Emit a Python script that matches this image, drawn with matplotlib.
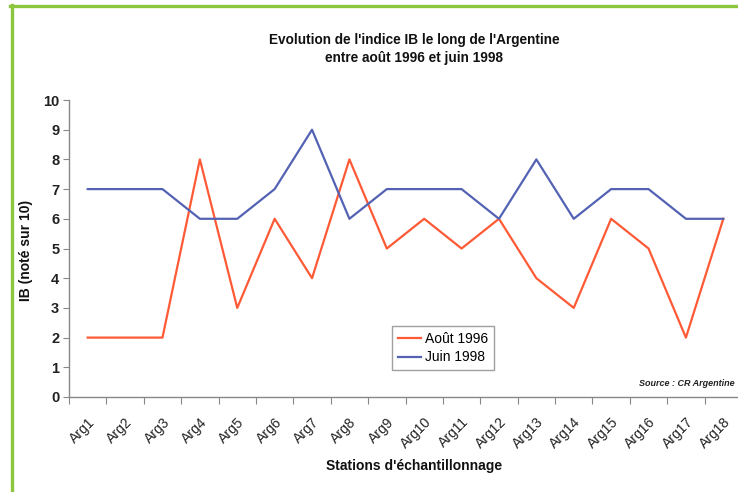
import numpy as np
import matplotlib.pyplot as plt
from matplotlib.lines import Line2D

plt.rcParams['font.family'] = ['Liberation Sans', 'DejaVu Sans']

# data
stations = ['Arg%d' % i for i in range(1, 19)]
aout_1996 = [2, 2, 2, 8, 3, 6, 4, 8, 5, 6, 5, 6, 4, 3, 6, 5, 2, 6]
juin_1998 = [7, 7, 7, 6, 6, 7, 9, 6, 7, 7, 7, 6, 8, 6, 7, 7, 6, 6]

W, H = 738, 492
fig = plt.figure(figsize=(W / 100, H / 100), dpi=100)

# plot area (Excel style)
ax = fig.add_axes([69 / W, (H - 397) / H, (742 - 69) / W, 297 / H])
x = np.arange(len(stations))
ax.plot(x, aout_1996, color='#ff5a36', lw=1.6, label='Août 1996')
ax.plot(x, juin_1998, color='#5462b4', lw=1.6, label='Juin 1998')

ax.set_xlim(-0.5, len(stations) - 0.5)
ax.set_ylim(0, 10)
ax.set_yticks(range(0, 11))
ax.tick_params(axis='y', labelsize=10.5, length=4, color='#888888', pad=3)
for t in ax.get_yticklabels():
    t.set_fontweight('bold')
    t.set_color('#222222')

# tick marks between categories, labels at the centers
ax.set_xticks(np.arange(-0.5, len(stations), 1))
ax.set_xticklabels([])
ax.tick_params(axis='x', which='major', length=5, color='#888888')
ax.set_xticks(x, minor=True)
ax.set_xticklabels(stations, minor=True, rotation=45, ha='right',
                   rotation_mode='anchor', fontsize=10, color='#222222')
ax.tick_params(axis='x', which='minor', length=0, pad=13)
for t in ax.get_xticklabels(minor=True):
    t.set_x(t.get_position()[0])

for s in ['top', 'right']:
    ax.spines[s].set_visible(False)
for s in ['left', 'bottom']:
    ax.spines[s].set_color('#888888')
    ax.spines[s].set_linewidth(1)

leg = ax.legend(loc='upper left', bbox_to_anchor=((392 - 69) / 673, (397 - 326) / 297),
                borderaxespad=0, fontsize=10, frameon=True, fancybox=False,
                borderpad=0.4, handlelength=1.7, handletextpad=0.3, labelspacing=0.35)
leg.get_frame().set_edgecolor('#888888')
leg.get_frame().set_linewidth(1)

fig.text(735 / W, 1 - 384 / H, 'Source : CR Argentine', fontsize=6.5,
         style='italic', fontweight='bold', ha='right', va='center', color='#222222')

fig.text(414 / W, 1 - 40 / H, "Evolution de l'indice IB le long de l'Argentine",
         fontsize=9.8, fontweight='bold', ha='center', va='center', color='#111111')
fig.text(414 / W, 1 - 58 / H, 'entre août 1996 et juin 1998',
         fontsize=9.8, fontweight='bold', ha='center', va='center', color='#111111')

fig.text(26 / W, 1 - 250 / H, 'IB (noté sur 10)', fontsize=10, fontweight='bold',
         rotation=90, ha='center', va='center', color='#111111')
fig.text(414 / W, 1 - 466 / H, "Stations d'échantillonnage", fontsize=10,
         fontweight='bold', ha='center', va='center', color='#111111')

# green frame on left and top
fig.add_artist(Line2D([11.5 / W, 11.5 / W], [0, 1 - 5 / H], transform=fig.transFigure,
                      color='#8cc63f', lw=2.4))
fig.add_artist(Line2D([10 / W, 1], [1 - 5.5 / H, 1 - 5.5 / H], transform=fig.transFigure,
                      color='#8cc63f', lw=2.4))

fig.savefig('out.png', dpi=100)
